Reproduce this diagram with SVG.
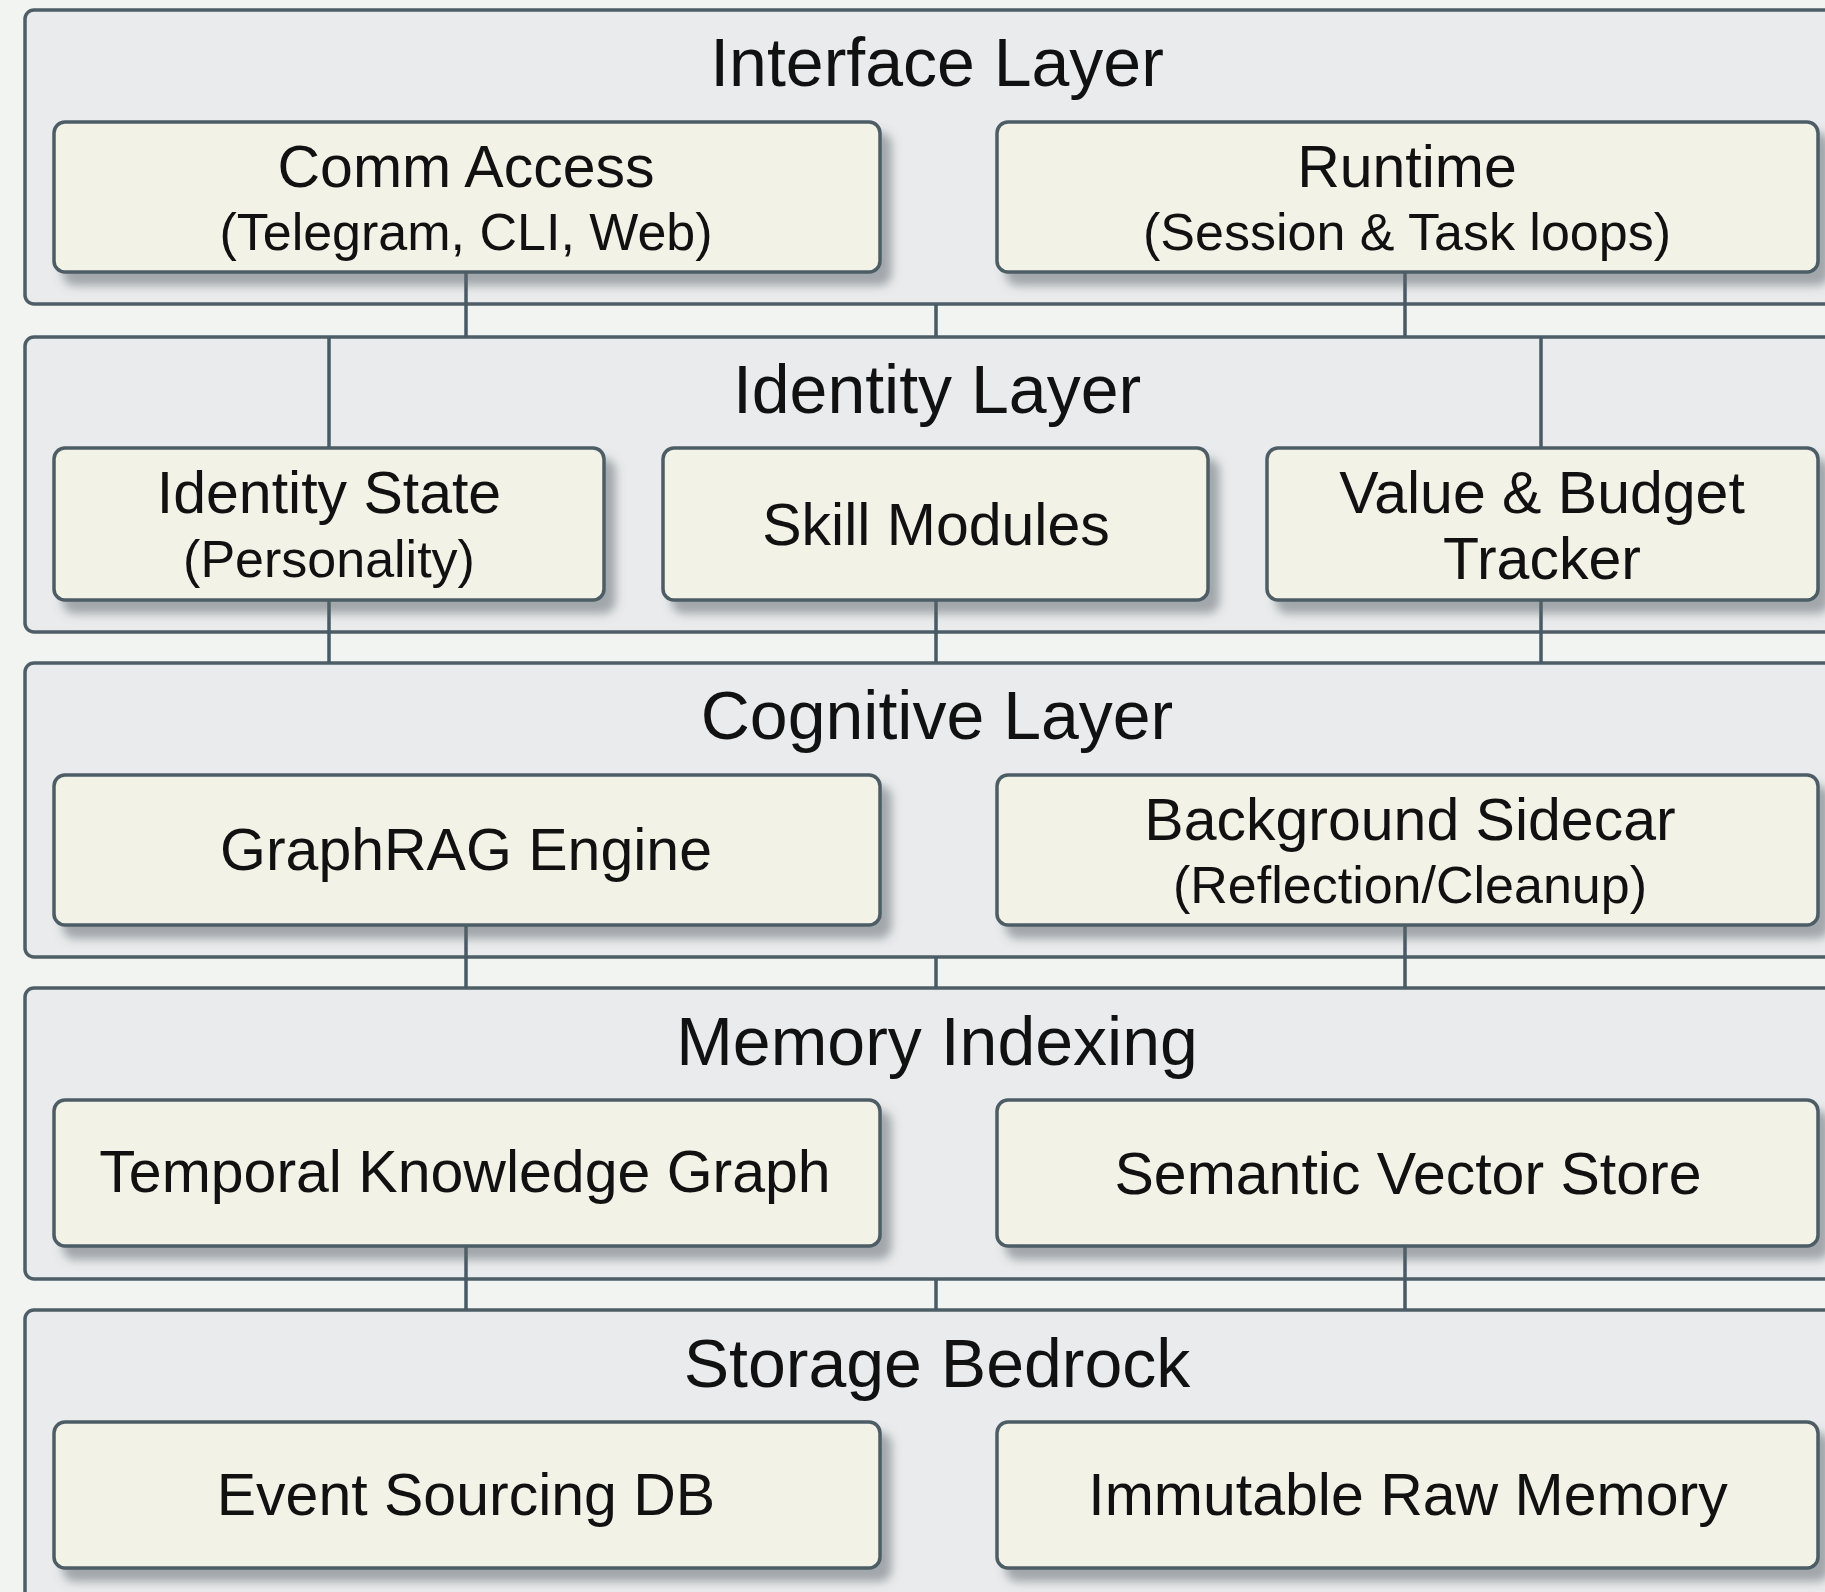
<svg xmlns="http://www.w3.org/2000/svg" width="1825" height="1592" viewBox="0 0 1825 1592">
  <defs>
    <filter id="shadow" x="-5%" y="-10%" width="115%" height="140%">
      <feDropShadow dx="10" dy="12" stdDeviation="5" flood-color="#5a6267" flood-opacity="0.5"/>
    </filter>
    <style>
      .layer { fill: #e9ebec; stroke: #4e5d66; stroke-width: 3.5; }
      .box { fill: #f2f2e7; stroke: #4e5d66; stroke-width: 3.5; filter: url(#shadow); }
      .link { stroke: #485a65; stroke-width: 3.5; fill: none; }
      text { font-family: "Liberation Sans", Arial, sans-serif; fill: #111; text-anchor: middle; }
      .ltitle { font-size: 68px; }
      .title { font-size: 59px; }
      .sub { font-size: 52px; }
    </style>
  </defs>

  <rect width="1825" height="1592" fill="#f2f4f2"/>

  <!-- layer panels -->
  <g id="interface-layer">
    <rect class="layer" x="25" y="10" width="1840" height="294" rx="9"/>
    <text class="ltitle" x="937" y="86">Interface Layer</text>
  </g>
  <g id="identity-layer">
    <rect class="layer" x="25" y="337" width="1840" height="295" rx="9"/>
    <text class="ltitle" x="937" y="413">Identity Layer</text>
  </g>
  <g id="cognitive-layer">
    <rect class="layer" x="25" y="663" width="1840" height="294" rx="9"/>
    <text class="ltitle" x="937" y="739">Cognitive Layer</text>
  </g>
  <g id="memory-indexing">
    <rect class="layer" x="25" y="988" width="1840" height="291" rx="9"/>
    <text class="ltitle" x="937" y="1065">Memory Indexing</text>
  </g>
  <g id="storage-bedrock">
    <rect class="layer" x="25" y="1310" width="1840" height="320" rx="9"/>
    <text class="ltitle" x="937" y="1387">Storage Bedrock</text>
  </g>

  <!-- connectors between components and layers -->
  <g id="connectors">
    <line class="link" x1="466" y1="272" x2="466" y2="337"/>
    <line class="link" x1="936" y1="304" x2="936" y2="337"/>
    <line class="link" x1="1405" y1="272" x2="1405" y2="337"/>

    <line class="link" x1="329" y1="337" x2="329" y2="448"/>
    <line class="link" x1="1541" y1="337" x2="1541" y2="448"/>

    <line class="link" x1="329" y1="600" x2="329" y2="663"/>
    <line class="link" x1="936" y1="600" x2="936" y2="663"/>
    <line class="link" x1="1541" y1="600" x2="1541" y2="663"/>

    <line class="link" x1="466" y1="925" x2="466" y2="988"/>
    <line class="link" x1="936" y1="957" x2="936" y2="988"/>
    <line class="link" x1="1405" y1="925" x2="1405" y2="988"/>

    <line class="link" x1="466" y1="1246" x2="466" y2="1310"/>
    <line class="link" x1="936" y1="1279" x2="936" y2="1310"/>
    <line class="link" x1="1405" y1="1246" x2="1405" y2="1310"/>
  </g>

  <!-- Interface layer components -->
  <g id="comm-access">
    <rect class="box" x="54" y="122" width="826" height="150" rx="11"/>
    <text class="title" x="466" y="187">Comm Access</text>
    <text class="sub" x="466" y="250">(Telegram, CLI, Web)</text>
  </g>
  <g id="runtime">
    <rect class="box" x="997" y="122" width="821" height="150" rx="11"/>
    <text class="title" x="1407" y="187">Runtime</text>
    <text class="sub" x="1407" y="250">(Session &amp; Task loops)</text>
  </g>

  <!-- Identity layer components -->
  <g id="identity-state">
    <rect class="box" x="54" y="448" width="550" height="152" rx="11"/>
    <text class="title" x="329" y="513">Identity State</text>
    <text class="sub" x="329" y="577">(Personality)</text>
  </g>
  <g id="skill-modules">
    <rect class="box" x="663" y="448" width="545" height="152" rx="11"/>
    <text class="title" x="936" y="545">Skill Modules</text>
  </g>
  <g id="value-budget-tracker">
    <rect class="box" x="1267" y="448" width="551" height="152" rx="11"/>
    <text class="title" x="1542" y="513">Value &amp; Budget</text>
    <text class="title" x="1542" y="579">Tracker</text>
  </g>

  <!-- Cognitive layer components -->
  <g id="graphrag-engine">
    <rect class="box" x="54" y="775" width="826" height="150" rx="11"/>
    <text class="title" x="466" y="870">GraphRAG Engine</text>
  </g>
  <g id="background-sidecar">
    <rect class="box" x="997" y="775" width="821" height="150" rx="11"/>
    <text class="title" x="1410" y="840">Background Sidecar</text>
    <text class="sub" x="1410" y="903">(Reflection/Cleanup)</text>
  </g>

  <!-- Memory indexing components -->
  <g id="temporal-knowledge-graph">
    <rect class="box" x="54" y="1100" width="826" height="146" rx="11"/>
    <text class="title" x="465" y="1192">Temporal Knowledge Graph</text>
  </g>
  <g id="semantic-vector-store">
    <rect class="box" x="997" y="1100" width="821" height="146" rx="11"/>
    <text class="title" x="1408" y="1194">Semantic Vector Store</text>
  </g>

  <!-- Storage bedrock components -->
  <g id="event-sourcing-db">
    <rect class="box" x="54" y="1422" width="826" height="146" rx="11"/>
    <text class="title" x="466" y="1515">Event Sourcing DB</text>
  </g>
  <g id="immutable-raw-memory">
    <rect class="box" x="997" y="1422" width="821" height="146" rx="11"/>
    <text class="title" x="1408" y="1515">Immutable Raw Memory</text>
  </g>
</svg>
